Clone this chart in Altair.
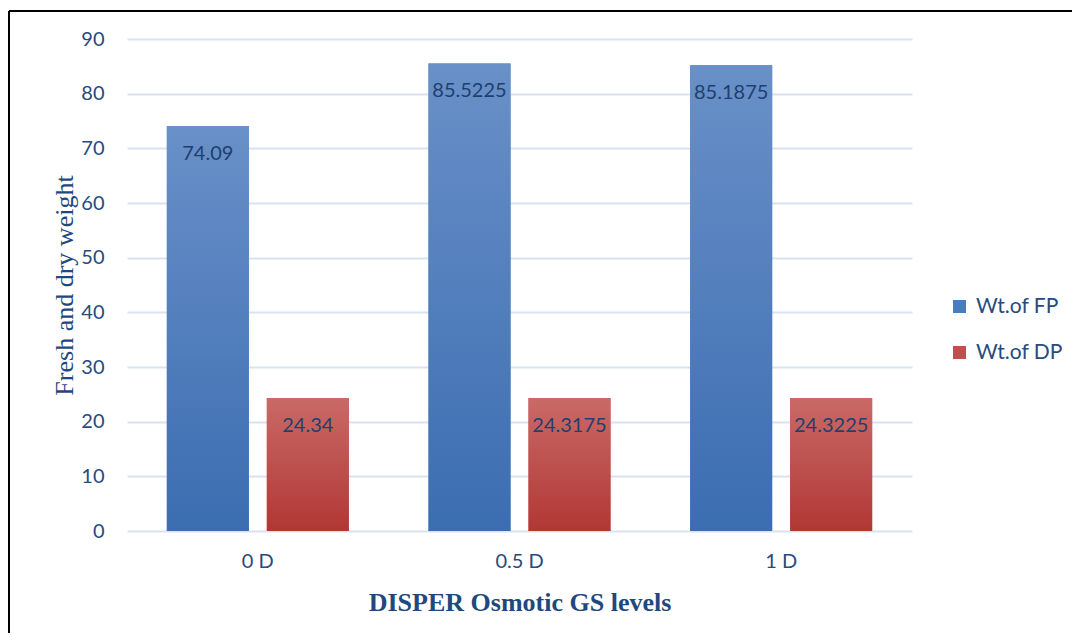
import altair as alt
import pandas as pd

categories = ["0 D", "0.5 D", "1 D"]
series = ["Wt.of FP", "Wt.of DP"]
fp_values = [74.09, 85.5225, 85.1875]
dp_values = [24.34, 24.3175, 24.3225]
fp_labels = ["74.09", "85.5225", "85.1875"]
dp_labels = ["24.34", "24.3175", "24.3225"]

rows = []
for c, v, l in zip(categories, fp_values, fp_labels):
    rows.append({"level": c, "series": series[0], "value": v, "label": l})
for c, v, l in zip(categories, dp_values, dp_labels):
    rows.append({"level": c, "series": series[1], "value": v, "label": l})
df = pd.DataFrame(rows)

TEXT = "#264B7E"
W, H = 785, 492

blue_grad = alt.Gradient(gradient="linear", x1=0, x2=0, y1=0, y2=1,
                         stops=[alt.GradientStop(color="#6990C8", offset=0),
                                alt.GradientStop(color="#3B6DB1", offset=1)])
red_grad = alt.Gradient(gradient="linear", x1=0, x2=0, y1=0, y2=1,
                        stops=[alt.GradientStop(color="#C96A67", offset=0),
                               alt.GradientStop(color="#B13734", offset=1)])

x_enc = alt.X("level:N", sort=categories,
              scale=alt.Scale(paddingInner=0.3045, paddingOuter=0.15225),
              axis=alt.Axis(title="DISPER Osmotic GS levels", labelAngle=0,
                            labelFont="Lato", labelFontSize=20, labelColor=TEXT,
                            labelPadding=20, domain=False, ticks=False, grid=False,
                            titleFont="Liberation Serif", titleFontSize=26,
                            titleFontWeight="bold", titleColor="#1F497D",
                            titleY=79, titleBaseline="alphabetic"))
xo_enc = alt.XOffset("series:N", sort=series,
                     scale=alt.Scale(domain=series, paddingInner=0.18, paddingOuter=0))
y_enc = alt.Y("value:Q", scale=alt.Scale(domain=[0, 90], nice=False),
              axis=alt.Axis(title="Fresh and dry weight", values=list(range(0, 100, 10)),
                            labelFont="Lato", labelFontSize=20, labelColor=TEXT,
                            labelPadding=23, domain=False, ticks=False,
                            gridColor="#D9E2F3", gridWidth=2,
                            titleFont="Liberation Serif", titleFontSize=26,
                            titleFontWeight="normal", titleColor="#1F497D",
                            titleAngle=-90, titleX=-55, titleY=246,
                            titleAlign="center", titleBaseline="alphabetic"))

base = alt.Chart(df)

legend_bars = base.mark_bar().encode(
    x=x_enc, xOffset=xo_enc, y=y_enc,
    color=alt.Color("series:N", sort=series,
                    scale=alt.Scale(domain=series, range=["#4A7DC0", "#C0504D"]),
                    legend=alt.Legend(title=None, orient="none", legendX=822, legendY=257,
                                      symbolType="square", symbolSize=169,
                                      symbolStrokeWidth=0, labelFont="Lato",
                                      labelFontSize=21, labelColor=TEXT,
                                      labelOffset=6, rowPadding=24, padding=0)),
)

fp_bars = base.transform_filter(alt.datum.series == series[0]).mark_bar(fill=blue_grad).encode(
    x=x_enc, xOffset=xo_enc, y=y_enc)
dp_bars = base.transform_filter(alt.datum.series == series[1]).mark_bar(fill=red_grad).encode(
    x=x_enc, xOffset=xo_enc, y=y_enc)

labels = base.mark_text(font="Lato", fontSize=20, color="#1F3F6E", baseline="middle",
                        dy=28).encode(
    x=x_enc, xOffset=xo_enc, y=y_enc, text="label:N")

frame_top = alt.Chart(pd.DataFrame({"a": [0]})).mark_rule(color="black", strokeWidth=2).encode(
    x=alt.value(-118), x2=alt.value(960), y=alt.value(-28))
frame_left = alt.Chart(pd.DataFrame({"a": [0]})).mark_rule(color="black", strokeWidth=2).encode(
    x=alt.value(-118), y=alt.value(-28), y2=alt.value(610))

chart = alt.layer(legend_bars, fp_bars, dp_bars, labels, frame_top, frame_left).properties(
    width=W, height=H,
    autosize=alt.AutoSizeParams(type="none"),
    padding={"left": 119, "top": 31, "right": 160, "bottom": 102},
).configure(background="white").configure_view(stroke=None)

chart.save("out.html", embed_options={"renderer": "svg", "actions": False})
